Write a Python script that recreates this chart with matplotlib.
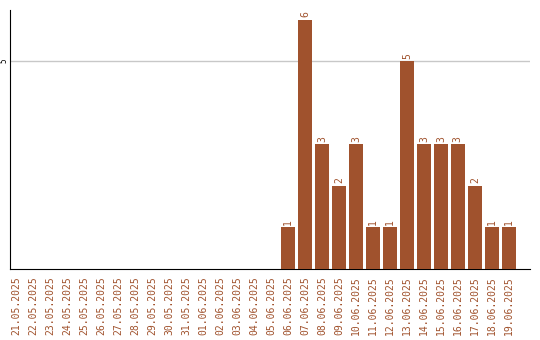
import matplotlib as mpl
mpl.use('Agg')
import matplotlib.pyplot as plt
import numpy as np

dates = ['21.05.2025', '22.05.2025', '23.05.2025', '24.05.2025', '25.05.2025',
         '26.05.2025', '27.05.2025', '28.05.2025', '29.05.2025', '30.05.2025',
         '31.05.2025', '01.06.2025', '02.06.2025', '03.06.2025', '04.06.2025',
         '05.06.2025', '06.06.2025', '07.06.2025', '08.06.2025', '09.06.2025',
         '10.06.2025', '11.06.2025', '12.06.2025', '13.06.2025', '14.06.2025',
         '15.06.2025', '16.06.2025', '17.06.2025', '18.06.2025', '19.06.2025']
counts = [0, 0, 0, 0, 0, 0, 0, 0, 0, 0, 0, 0, 0, 0, 0, 0,
          1, 6, 3, 2, 3, 1, 1, 5, 3, 3, 3, 2, 1, 1]

color = '#a0522d'
font = 'DejaVu Sans Mono'

fig = plt.figure(figsize=(5.4, 3.4), dpi=100)
ax = fig.add_axes([10 / 540, 71 / 340, 520 / 540, 259 / 340])

x = np.arange(len(dates))
ax.bar(x, counts, width=0.8, color=color, zorder=3)

# value labels above non-empty bars
for xi, v in zip(x, counts):
    if v > 0:
        ax.text(xi, v + 0.06, str(v), rotation=90, ha='center', va='bottom',
                color=color, fontsize=7, family=font)

ax.set_xlim(-0.38, 30.25)
ax.set_ylim(0, 6.23)
ax.set_yticks([5])
ax.set_yticklabels(['5'], rotation=90, va='center', fontsize=5.5, family=font)
ax.tick_params(axis='y', length=0, pad=1)
ax.grid(axis='y', color='#c8c8c8', linewidth=1, zorder=0)

ax.set_xticks(x)
ax.set_xticklabels(dates, rotation=90, fontsize=7, family=font, color=color)
ax.tick_params(axis='x', length=0, pad=5)

for s in ['top', 'right']:
    ax.spines[s].set_visible(False)
ax.spines['left'].set_color('black')
ax.spines['bottom'].set_color('black')

fig.savefig('out.png', dpi=100)
